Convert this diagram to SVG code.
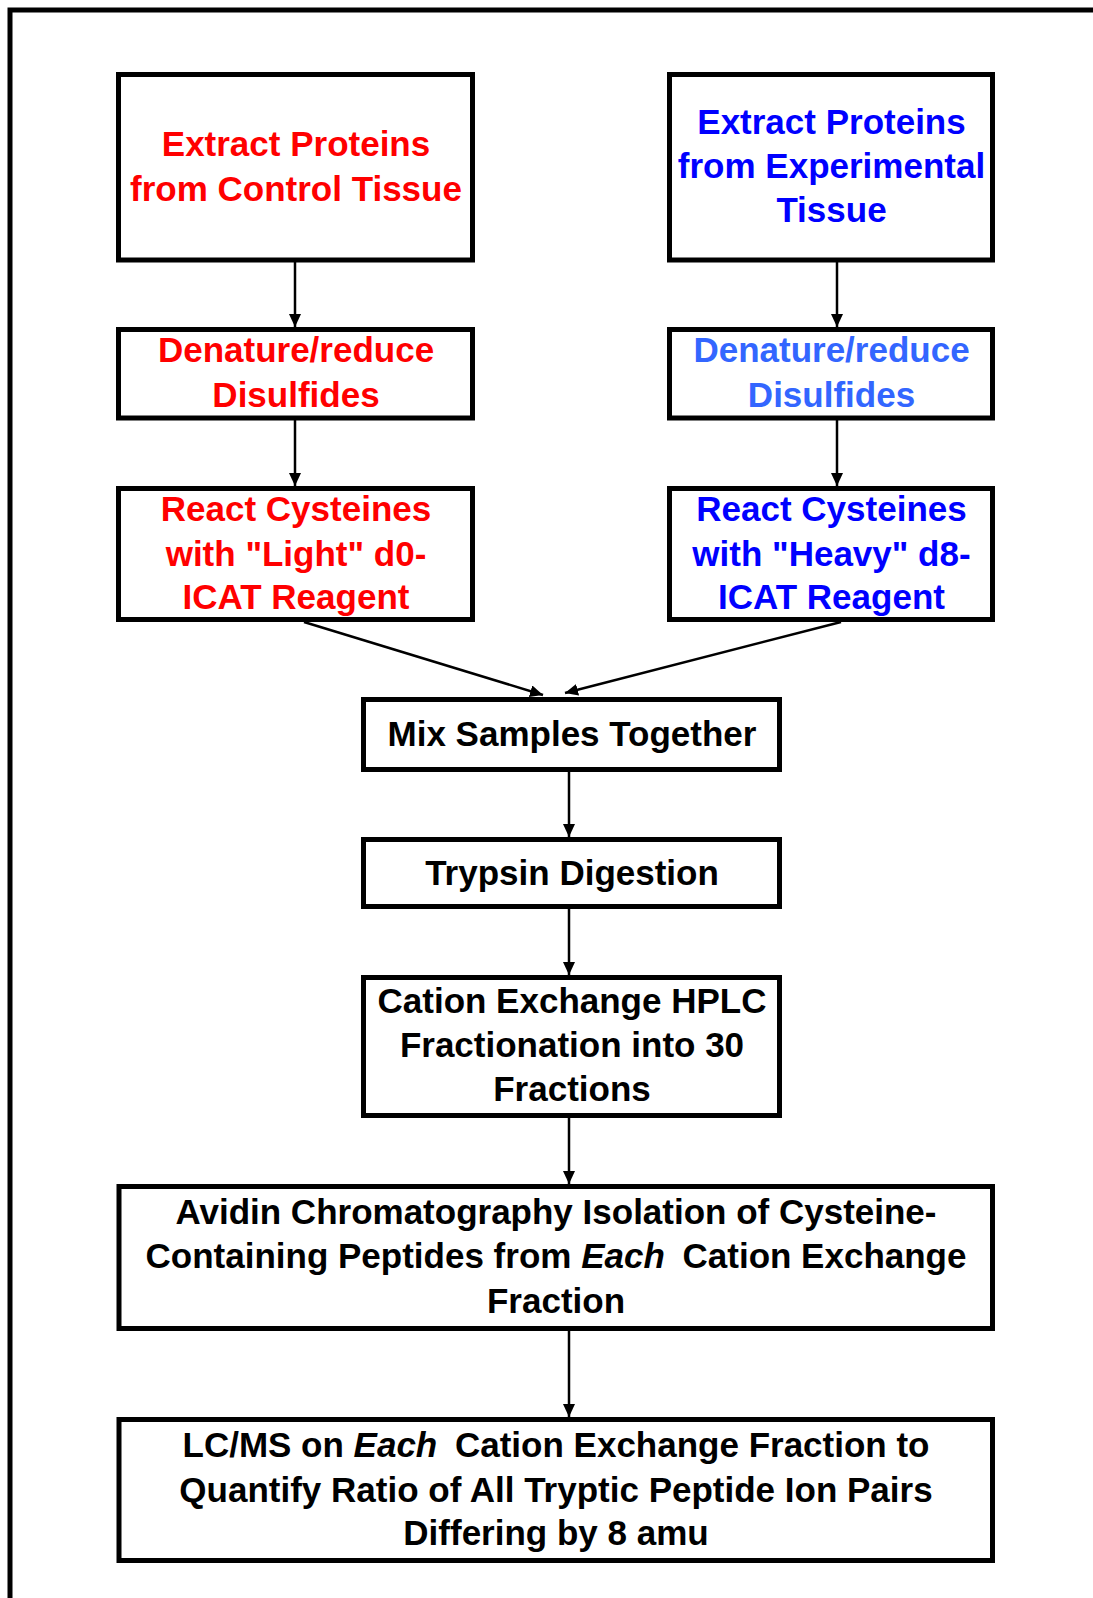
<svg xmlns="http://www.w3.org/2000/svg" width="1093" height="1598" viewBox="0 0 1093 1598">
<style>
.box{fill:#fff;stroke:#000;stroke-width:5}
.t{font-family:"Liberation Sans",Arial,sans-serif;font-weight:bold;font-size:35px;text-anchor:middle}
.red{fill:#FF0000}
.blue{fill:#0000FF}
.lblue{fill:#3366FF}
.blk{fill:#000}
.c{stroke:#000;stroke-width:2.5;fill:none;marker-end:url(#ah)}
.frame{stroke:#000;stroke-width:5;fill:none}
</style>
<defs>
<marker id="ah" markerUnits="userSpaceOnUse" markerWidth="14" markerHeight="14" refX="13" refY="6" orient="auto">
<path d="M0,0 L13,6 L0,12 z" fill="#000"/>
</marker>
</defs>
<rect width="1093" height="1598" fill="#fff"/>
<path class="frame" d="M10,1598 L10,10 L1093,10"/>

<g id="connectors">
<line class="c" x1="295" y1="262" x2="295" y2="327"/>
<line class="c" x1="837" y1="262" x2="837" y2="327"/>
<line class="c" x1="295" y1="420" x2="295" y2="486"/>
<line class="c" x1="837" y1="420" x2="837" y2="486"/>
<line class="c" x1="304" y1="622" x2="543" y2="695"/>
<line class="c" x1="841" y1="622" x2="565" y2="693"/>
<line class="c" x1="569" y1="772" x2="569" y2="837"/>
<line class="c" x1="569" y1="909" x2="569" y2="975"/>
<line class="c" x1="569" y1="1118" x2="569" y2="1184"/>
<line class="c" x1="569" y1="1331" x2="569" y2="1417"/>
</g>

<g id="n1">
<rect class="box" x="118.5" y="74.5" width="354" height="185.5"/>
<text class="t red" x="296" y="156">Extract Proteins</text>
<text class="t red" x="296" y="201">from Control Tissue</text>
</g>
<g id="n2">
<rect class="box" x="669.5" y="74.5" width="323" height="185.5"/>
<text class="t blue" x="831.5" y="134">Extract Proteins</text>
<text class="t blue" x="831.5" y="178">from Experimental</text>
<text class="t blue" x="831.5" y="222">Tissue</text>
</g>
<g id="n3">
<rect class="box" x="118.5" y="329.5" width="354" height="88.5"/>
<text class="t red" x="296" y="362">Denature/reduce</text>
<text class="t red" x="296" y="407">Disulfides</text>
</g>
<g id="n4">
<rect class="box" x="669.5" y="329.5" width="323" height="88.5"/>
<text class="t lblue" x="831.5" y="362">Denature/reduce</text>
<text class="t lblue" x="831.5" y="407">Disulfides</text>
</g>
<g id="n5">
<rect class="box" x="118.5" y="488.5" width="354" height="131"/>
<text class="t red" x="296" y="521">React Cysteines</text>
<text class="t red" x="296" y="566">with "Light" d0-</text>
<text class="t red" x="296" y="609">ICAT Reagent</text>
</g>
<g id="n6">
<rect class="box" x="669.5" y="488.5" width="323" height="131"/>
<text class="t blue" x="831.5" y="521">React Cysteines</text>
<text class="t blue" x="831.5" y="566">with "Heavy" d8-</text>
<text class="t blue" x="831.5" y="609">ICAT Reagent</text>
</g>
<g id="n7">
<rect class="box" x="363.5" y="699.5" width="416" height="70"/>
<text class="t blk" x="572" y="746">Mix Samples Together</text>
</g>
<g id="n8">
<rect class="box" x="363.5" y="839.5" width="416" height="67"/>
<text class="t blk" x="572" y="885">Trypsin Digestion</text>
</g>
<g id="n9">
<rect class="box" x="363.5" y="977.5" width="416" height="138"/>
<text class="t blk" x="572" y="1013">Cation Exchange HPLC</text>
<text class="t blk" x="572" y="1057">Fractionation into 30</text>
<text class="t blk" x="572" y="1101">Fractions</text>
</g>
<g id="n10">
<rect class="box" x="119" y="1186.5" width="873.5" height="142"/>
<text class="t blk" x="556" y="1224">Avidin Chromatography Isolation of Cysteine-</text>
<text class="t blk" x="556" y="1268">Containing Peptides from <tspan font-style="italic">Each</tspan><tspan dx="8"> Cation Exchange</tspan></text>
<text class="t blk" x="556" y="1313">Fraction</text>
</g>
<g id="n11">
<rect class="box" x="119" y="1419.5" width="873.5" height="141"/>
<text class="t blk" x="556" y="1457">LC/MS on <tspan font-style="italic">Each</tspan><tspan dx="8"> Cation Exchange Fraction to</tspan></text>
<text class="t blk" x="556" y="1502">Quantify Ratio of All Tryptic Peptide Ion Pairs</text>
<text class="t blk" x="556" y="1545">Differing by 8 amu</text>
</g>
</svg>
